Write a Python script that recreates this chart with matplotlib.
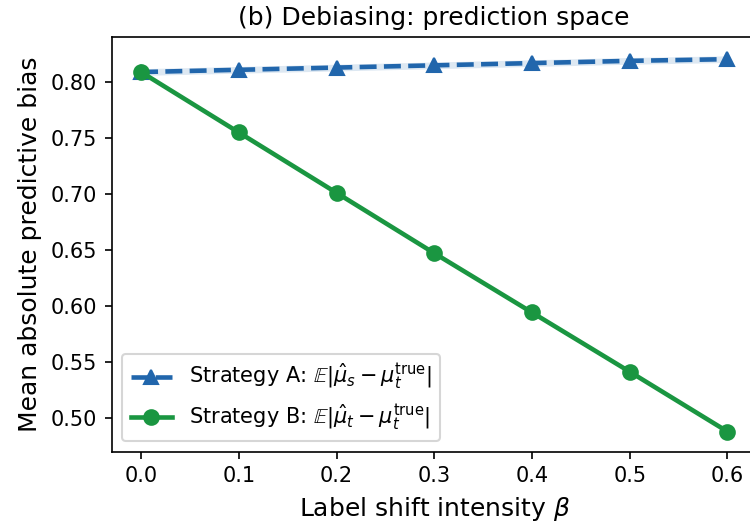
import numpy as np
import matplotlib.pyplot as plt

beta = [0.0, 0.1, 0.2, 0.3, 0.4, 0.5, 0.6]
bias_a = [0.809, 0.811, 0.813, 0.815, 0.817, 0.819, 0.8205]
bias_b = [0.809, 0.755, 0.701, 0.647, 0.594, 0.541, 0.4875]
std_a = [0.003, 0.003, 0.003, 0.003, 0.003, 0.003, 0.003]
std_b = [0.0012, 0.0012, 0.0012, 0.0012, 0.0012, 0.0012, 0.0012]

blue = '#2166ac'
green = '#1a9641'

fig, ax = plt.subplots(figsize=(5, 3.527), dpi=150)
fig.subplots_adjust(left=0.149, right=1.009, bottom=0.146, top=0.930)

a = np.array(bias_a)
b = np.array(bias_b)
ax.fill_between(beta, a - np.array(std_a), a + np.array(std_a), color=blue, alpha=0.15, lw=0)
ax.fill_between(beta, b - np.array(std_b), b + np.array(std_b), color=green, alpha=0.15, lw=0)
ax.plot(beta, bias_a, color=blue, ls='--', lw=2.2, marker='^', ms=7,
        label=r'Strategy A: $\mathbb{E}|\hat{\mu}_s - \mu_t^{\mathrm{true}}|$')
ax.plot(beta, bias_b, color=green, ls='-', lw=2.2, marker='o', ms=7,
        label=r'Strategy B: $\mathbb{E}|\hat{\mu}_t - \mu_t^{\mathrm{true}}|$')

ax.set_xticks(beta)
ax.tick_params(labelsize=10)
ax.set_xlabel(r'Label shift intensity $\beta$', fontsize=12)
ax.set_ylabel('Mean absolute predictive bias', fontsize=12)
ax.set_title('(b) Debiasing: prediction space', fontsize=12)
ax.legend(loc='lower left', fontsize=10)

fig.savefig('out.png', dpi=150)
